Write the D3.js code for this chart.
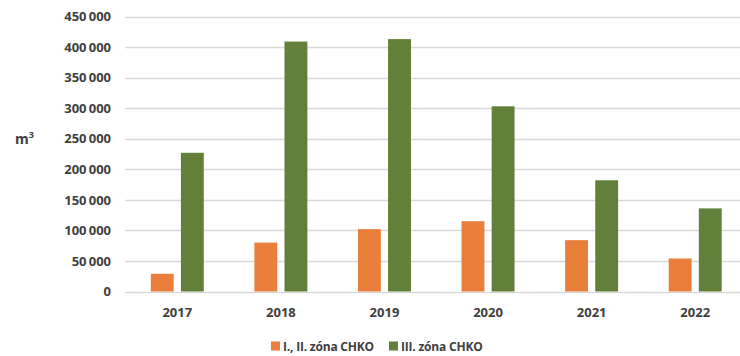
<!DOCTYPE html>
<html>
<head>
<meta charset="utf-8">
<script src="https://cdn.jsdelivr.net/npm/d3@7"></script>
<style>
  html, body { margin: 0; padding: 0; background: #fff; }
  svg { display: block; font-family: "Open Sans", "Noto Sans", sans-serif; }
</style>
</head>
<body>
<svg id="chart" width="740" height="356"></svg>
<script>
// Harvested timber volume by protected-area zone (m³)
const years = ["2017", "2018", "2019", "2020", "2021", "2022"];
const seriesNames = ["I., II. zóna CHKO", "III. zóna CHKO"];
const zone12 = [29000, 80000, 102000, 115000, 84000, 54000];
const zone3 = [227000, 409000, 413000, 303000, 182000, 136000];
const yTicks = [0, 50000, 100000, 150000, 200000, 250000, 300000, 350000, 400000, 450000];
const colors = ["#EA7E3B", "#62803A"];

const series = [zone12, zone3];

const svg = d3.select("#chart");
const W = 740;

const x0 = d3.scaleBand().domain(years).range([125.5, 747]).padding(0);
const groupW = 53;
const x1 = d3.scaleBand().domain(d3.range(series.length)).range([0, groupW]).paddingInner(0.24);
const y = d3.scaleLinear().domain([0, 450000]).range([291.5, 16.5]);

const fmt = v => d3.format(",")(v).replace(/,/g, "\u2009");

// horizontal gridlines
svg.append("g")
  .selectAll("line")
  .data(yTicks)
  .join("line")
  .attr("x1", 125).attr("x2", W)
  .attr("y1", d => Math.round(y(d)) + 0.5)
  .attr("y2", d => Math.round(y(d)) + 0.5)
  .attr("stroke", "#d9d9d9")
  .attr("stroke-width", 1.5);

// y axis labels
const yAxis = d3.axisLeft(y).tickValues(yTicks).tickSize(0).tickPadding(0).tickFormat(fmt);
svg.append("g")
  .attr("transform", "translate(111,0)")
  .call(yAxis)
  .call(g => g.select(".domain").remove())
  .call(g => g.selectAll("text")
    .attr("fill", "#404040")
    .attr("font-size", 13)
    .attr("font-weight", 700)
    .attr("font-family", "'Open Sans', sans-serif"));

// unit label
svg.append("text")
  .attr("x", 15).attr("y", 144)
  .attr("fill", "#404040")
  .attr("font-size", 14)
  .attr("font-weight", 700)
  .text("m")
  .append("tspan")
  .attr("dy", -6)
  .attr("font-size", 9)
  .text("3");

// bars
const groups = svg.append("g")
  .selectAll("g")
  .data(years)
  .join("g")
  .attr("transform", d => `translate(${x0(d) + (x0.bandwidth() - groupW) / 2},0)`);

groups.selectAll("rect")
  .data((d, i) => series.map((s, k) => ({ k, v: s[i] })))
  .join("rect")
  .attr("x", d => x1(d.k))
  .attr("width", x1.bandwidth())
  .attr("y", d => y(d.v))
  .attr("height", d => y(0) - y(d.v))
  .attr("fill", d => colors[d.k]);

// x axis labels
const xAxis = d3.axisBottom(x0).tickSize(0).tickPadding(0);
svg.append("g")
  .attr("transform", "translate(0,307.5)")
  .call(xAxis)
  .call(g => g.select(".domain").remove())
  .call(g => g.selectAll("text")
    .attr("dy", "0.71em")
    .attr("fill", "#404040")
    .attr("font-size", 13)
    .attr("font-weight", 700)
    .attr("font-family", "'Open Sans', sans-serif"));

// legend
const legendItems = [{ x: 271, name: seriesNames[0], c: colors[0] }, { x: 389, name: seriesNames[1], c: colors[1] }];
const lg = svg.append("g").selectAll("g").data(legendItems).join("g")
  .attr("transform", d => `translate(${d.x},341.5)`);
lg.append("rect").attr("width", 9).attr("height", 9).attr("fill", d => d.c);
lg.append("text")
  .attr("x", 12).attr("y", 9)
  .attr("fill", "#404040")
  .attr("font-size", 12)
  .attr("font-weight", 700)
  .attr("letter-spacing", -0.2)
  .text(d => d.name);
</script>
</body>
</html>
